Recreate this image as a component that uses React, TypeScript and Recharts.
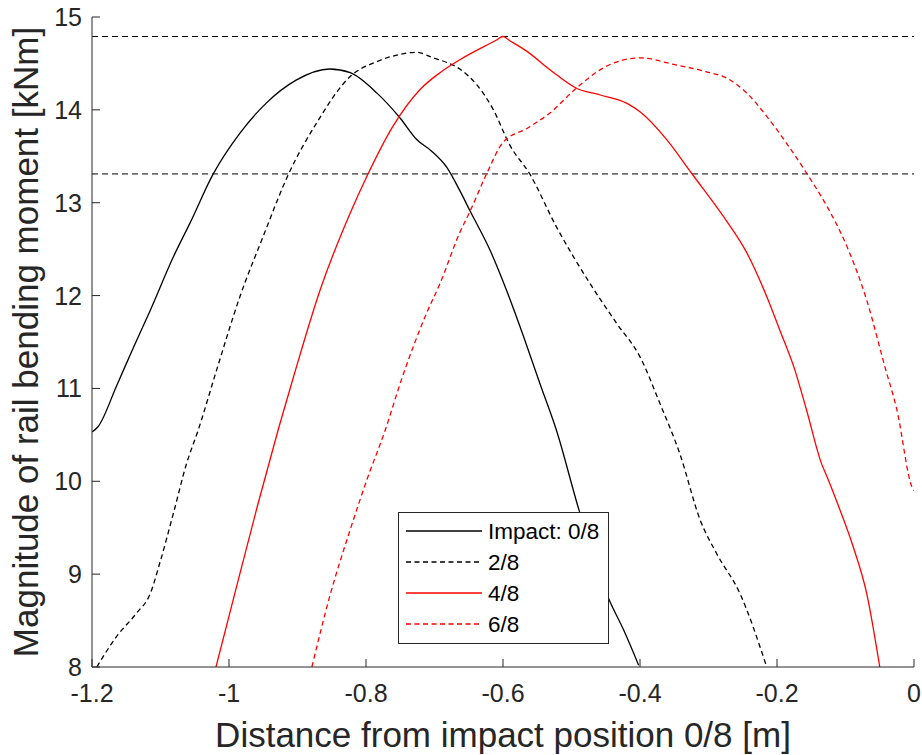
import { LineChart, Line, XAxis, YAxis, ReferenceLine, Legend } from "recharts";

const AXIS = "#262626";
const FONT = "'Liberation Sans', Arial, sans-serif";

// distance from impact position 0/8 [m]
const xTicks = [-1.2, -1, -0.8, -0.6, -0.4, -0.2, 0];
const yTicks = [8, 9, 10, 11, 12, 13, 14, 15];

// horizontal reference levels [kNm]
const upperLevel = 14.79;
const lowerLevel = 13.31;

// impact 0/8
const impact0X = [-1.2, -1.191, -1.164, -1.139, -1.115, -1.081, -1.057, -1.023, -0.984, -0.946, -0.902, -0.853, -0.823, -0.784, -0.75, -0.726, -0.705, -0.682, -0.663, -0.648, -0.619, -0.595, -0.57, -0.546, -0.522, -0.489, -0.446, -0.424, -0.402];
const impact0Y = [10.53, 10.59, 11.03, 11.45, 11.84, 12.42, 12.78, 13.31, 13.75, 14.07, 14.32, 14.44, 14.4, 14.18, 13.91, 13.68, 13.56, 13.38, 13.13, 12.91, 12.49, 12.06, 11.56, 11.05, 10.55, 9.69, 8.74, 8.4, 8.02];

// impact 2/8
const impact2X = [-1.193, -1.164, -1.135, -1.115, -1.101, -1.081, -1.062, -1.045, -1.018, -0.984, -0.95, -0.913, -0.872, -0.823, -0.784, -0.755, -0.726, -0.702, -0.682, -0.663, -0.614, -0.59, -0.561, -0.522, -0.473, -0.434, -0.4, -0.371, -0.342, -0.312, -0.288, -0.254, -0.215];
const impact2Y = [8.0, 8.33, 8.58, 8.79, 9.12, 9.66, 10.19, 10.55, 11.2, 11.99, 12.64, 13.31, 13.86, 14.36, 14.52, 14.59, 14.62, 14.56, 14.51, 14.44, 14.0, 13.62, 13.31, 12.74, 12.13, 11.7, 11.34, 10.84, 10.3, 9.58, 9.22, 8.79, 8.0];

// impact 4/8
const impact4X = [-1.019, -0.994, -0.959, -0.928, -0.906, -0.867, -0.823, -0.799, -0.761, -0.721, -0.692, -0.663, -0.61, -0.6, -0.59, -0.565, -0.531, -0.492, -0.458, -0.419, -0.4, -0.361, -0.325, -0.278, -0.244, -0.215, -0.196, -0.174, -0.157, -0.135, -0.127, -0.108, -0.089, -0.069, -0.05];
const impact4Y = [8.0, 8.72, 9.72, 10.56, 11.12, 12.06, 12.89, 13.28, 13.82, 14.22, 14.4, 14.54, 14.75, 14.79, 14.745, 14.63, 14.43, 14.23, 14.16, 14.07, 13.98, 13.68, 13.32, 12.85, 12.46, 11.99, 11.63, 11.2, 10.77, 10.19, 10.05, 9.69, 9.3, 8.79, 8.0];

// impact 6/8
const impact6X = [-0.879, -0.853, -0.823, -0.799, -0.772, -0.748, -0.711, -0.692, -0.663, -0.648, -0.624, -0.6, -0.565, -0.531, -0.492, -0.454, -0.4, -0.351, -0.303, -0.273, -0.244, -0.215, -0.186, -0.157, -0.127, -0.098, -0.069, -0.042, -0.025, -0.003, 0];
const impact6Y = [8.0, 8.76, 9.48, 10.01, 10.55, 11.1, 11.82, 12.13, 12.68, 12.91, 13.31, 13.65, 13.8, 13.97, 14.24, 14.45, 14.56, 14.49, 14.41, 14.34, 14.18, 13.93, 13.64, 13.32, 12.96, 12.53, 11.95, 11.22, 10.77, 9.94, 9.9];

const zip = (xs: number[], ys: number[]) => xs.map((x, i) => ({ x, y: ys[i] }));

const series = [
  { name: "Impact: 0/8", data: zip(impact0X, impact0Y), color: "#000000", dash: undefined },
  { name: "2/8", data: zip(impact2X, impact2Y), color: "#000000", dash: "5 3.5" },
  { name: "4/8", data: zip(impact4X, impact4Y), color: "#ff0000", dash: undefined },
  { name: "6/8", data: zip(impact6X, impact6Y), color: "#ff0000", dash: "5 3.5" },
];

const fmt = (v: number) => String(v);

function BottomTick({ x, y, payload }: any) {
  return (
    <g>
      <line x1={x} x2={x} y1={y} y2={y - 8} stroke={AXIS} />
      <text x={x} y={y + 35} textAnchor="middle" fontSize={25} fill={AXIS} fontFamily={FONT}>{fmt(payload.value)}</text>
    </g>
  );
}

function LeftTick({ x, y, payload }: any) {
  return (
    <g>
      <line x1={x} x2={x + 8} y1={y} y2={y} stroke={AXIS} />
      <text x={x - 10} y={y + 9} textAnchor="end" fontSize={25} fill={AXIS} fontFamily={FONT}>{fmt(payload.value)}</text>
    </g>
  );
}

function TopTick({ x, y }: any) {
  return <line x1={x} x2={x} y1={y} y2={y + 8} stroke={AXIS} />;
}

function RightTick({ x, y }: any) {
  return <line x1={x} x2={x - 8} y1={y} y2={y} stroke={AXIS} />;
}

function XTitle({ viewBox }: any) {
  const cx = viewBox.x + viewBox.width / 2;
  return (
    <text x={cx} y={747} textAnchor="middle" fontSize={35} fill={AXIS} fontFamily={FONT}>
      Distance from impact position 0/8 [m]
    </text>
  );
}

function YTitle({ viewBox }: any) {
  const cy = viewBox.y + viewBox.height / 2;
  return (
    <text x={38} y={cy} transform={`rotate(-90, 38, ${cy})`} textAnchor="middle" fontSize={35} fill={AXIS} fontFamily={FONT}>
      Magnitude of rail bending moment [kNm]
    </text>
  );
}

function LegendBox() {
  return (
    <div style={{ width: 211, height: 132, boxSizing: "border-box", border: `1px solid ${AXIS}`, background: "#fff" }}>
      <svg width={209} height={130} style={{ display: "block" }}>
        {series.map((s, i) => {
          const cy = 18 + i * 31;
          return (
            <g key={s.name}>
              <line x1={7} x2={83} y1={cy} y2={cy} stroke={s.color} strokeWidth={1.3} strokeDasharray={s.dash} />
              <text x={89} y={cy + 8} fontSize={22.5} fill="#000" fontFamily={FONT}>{s.name}</text>
            </g>
          );
        })}
      </svg>
    </div>
  );
}

export default function App() {
  return (
    <div style={{ position: "absolute", left: 0, top: 0, background: "#fff", fontFamily: FONT }}>
      <LineChart width={922} height={755} margin={{ top: 17, right: 8, bottom: 0, left: 0 }}>
        <XAxis
          dataKey="x"
          type="number"
          domain={[-1.2, 0]}
          ticks={xTicks}
          interval={0}
          allowDataOverflow
          height={88}
          tickSize={0}
          tickMargin={0}
          tickLine={false}
          tick={<BottomTick />}
          axisLine={{ stroke: AXIS }}
          label={{ content: XTitle }}
        />
        <XAxis
          xAxisId="top"
          orientation="top"
          dataKey="x"
          type="number"
          domain={[-1.2, 0]}
          ticks={xTicks}
          interval={0}
          allowDataOverflow
          height={0}
          tickSize={0}
          tickMargin={0}
          tickLine={false}
          tick={<TopTick />}
          axisLine={{ stroke: AXIS }}
        />
        <YAxis
          type="number"
          domain={[8, 15]}
          ticks={yTicks}
          interval={0}
          allowDataOverflow
          width={92}
          tickSize={0}
          tickMargin={0}
          tickLine={false}
          tick={<LeftTick />}
          axisLine={{ stroke: AXIS }}
          label={{ content: YTitle }}
        />
        <YAxis
          yAxisId="right"
          orientation="right"
          type="number"
          domain={[8, 15]}
          ticks={yTicks}
          interval={0}
          allowDataOverflow
          width={0}
          tickSize={0}
          tickMargin={0}
          tickLine={false}
          tick={<RightTick />}
          axisLine={{ stroke: AXIS }}
        />
        <ReferenceLine y={upperLevel} stroke="#000" strokeWidth={1} strokeDasharray="6 4" />
        <ReferenceLine y={lowerLevel} stroke="#000" strokeWidth={1} strokeDasharray="6 4" />
        {series.map((s) => (
          <Line
            key={s.name}
            data={s.data}
            dataKey="y"
            name={s.name}
            type="monotone"
            stroke={s.color}
            strokeWidth={1.3}
            strokeDasharray={s.dash}
            dot={false}
            activeDot={false}
            isAnimationActive={false}
          />
        ))}
        <Legend
          layout="vertical"
          align="center"
          verticalAlign="middle"
          content={<LegendBox />}
          wrapperStyle={{ position: "absolute", left: 398, top: 512, width: 211, height: 132, margin: 0, padding: 0 }}
        />
      </LineChart>
    </div>
  );
}
